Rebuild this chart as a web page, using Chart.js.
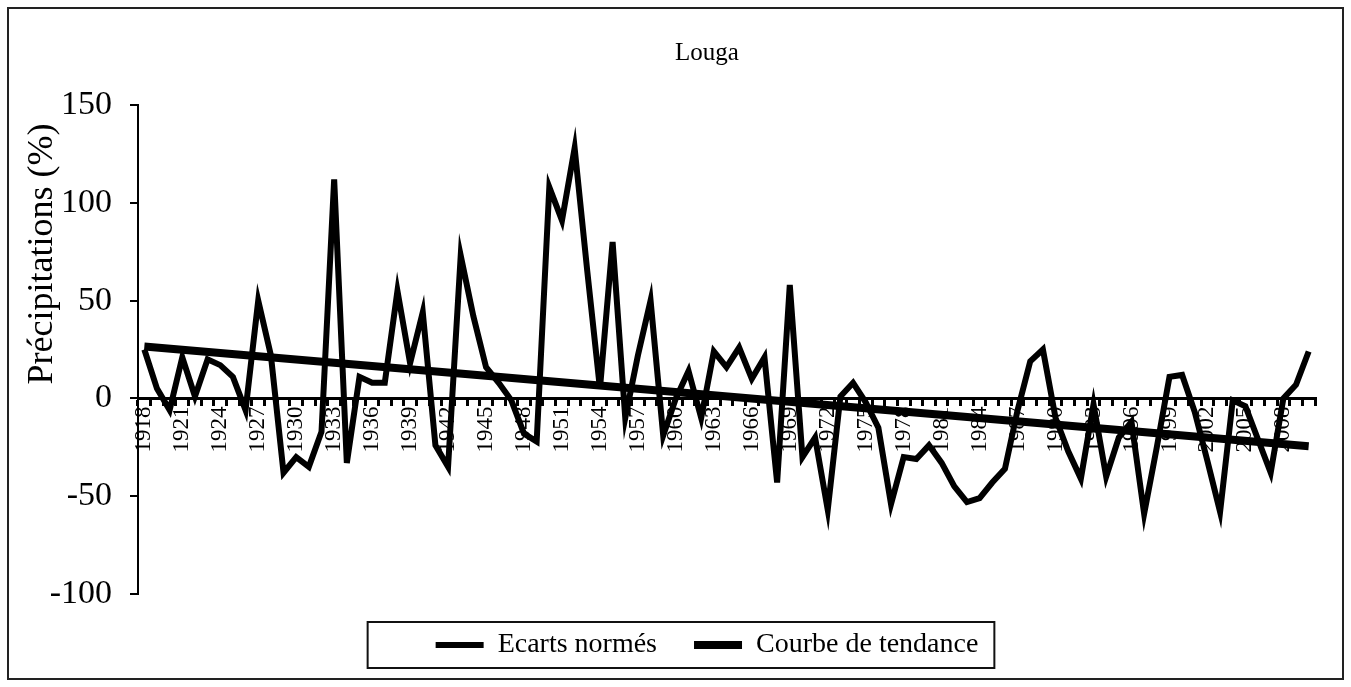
<!DOCTYPE html>
<html>
<head>
<meta charset="utf-8">
<title>Louga</title>
<script src="https://cdn.jsdelivr.net/npm/chart.js@4/dist/chart.umd.min.js"></script>
<style>
  html, body { margin: 0; padding: 0; background: #fff; }
  #wrap { position: relative; width: 1351px; height: 687px; }
</style>
</head>
<body>
<div id="wrap"><canvas id="chartLouga"></canvas></div>
<script>
/* Louga — écarts normés des précipitations et courbe de tendance */

const years = [
  '1918','1919','1920','1921','1922','1923','1924','1925','1926','1927',
  '1928','1929','1930','1931','1932','1933','1934','1935','1936','1937',
  '1938','1939','1940','1941','1942','1943','1944','1945','1946','1947',
  '1948','1949','1950','1951','1952','1953','1954','1955','1956','1957',
  '1958','1959','1960','1961','1962','1963','1964','1965','1966','1967',
  '1968','1969','1970','1971','1972','1973','1974','1975','1976','1977',
  '1978','1979','1980','1981','1982','1983','1984','1985','1986','1987',
  '1988','1989','1990','1991','1992','1993','1994','1995','1996','1997',
  '1998','1999','2000','2001','2002','2003','2004','2005','2006','2007',
  '2008','2009','2010'
];

const ecarts = [
   25,   5,  -6,  21,   1,  20,  17,  11,  -6,  50,
   22, -38, -30, -35, -17, 112, -33,  11,   8,   8,
   55,  18,  44, -24, -35,  73,  42,  16,   8,  -1,
  -18, -22, 108,  91, 128,  65,   5,  80, -10,  22,
   50, -19,   0,  14, -10,  24,  16,  26,  10,  21,
  -43,  58, -30, -20, -57,   1,   8,  -2, -15, -54,
  -30, -31, -24, -33, -45, -53, -51, -43, -36,  -6,
   19,  25, -10, -27, -41,  -3, -40, -20, -12, -59,
  -25,  11,  12,  -7, -32, -58,  -1,  -4, -21, -38,
    0,   7,  24
];

// droite de tendance (extrémités)
const trendYears  = ['1918', '2010'];
const trendValues = [26.5, -24.5];

// libellés affichés sur l'axe des x (un an sur trois)
const tickYears = [
  '1918','1921','1924','1927','1930','1933','1936','1939','1942','1945',
  '1948','1951','1954','1957','1960','1963','1966','1969','1972','1975',
  '1978','1981','1984','1987','1990','1993','1996','1999','2002','2005','2008'
];

const yMin = -100, yMax = 150, yStep = 50;

const SERIF = "'Liberation Serif', 'Times New Roman', serif";
Chart.defaults.color = '#000';
Chart.defaults.font.family = SERIF;

/* cadre, libellés et titre de l'axe y, encadré de la légende */
const decor = {
  id: 'decor',
  beforeDraw(chart) {
    const ctx = chart.ctx;
    ctx.save();
    ctx.fillStyle = '#fff';
    ctx.fillRect(0, 0, chart.width, chart.height);
    ctx.strokeStyle = '#222';
    ctx.lineWidth = 2;
    ctx.strokeRect(8, 8, chart.width - 16, chart.height - 16);
    ctx.restore();
  },
  afterDraw(chart) {
    const ctx = chart.ctx;
    const ca = chart.chartArea;
    const ys = chart.scales.y;

    // libellés de l'axe y (dessinés ici pour ne pas être rognés)
    ctx.save();
    ctx.fillStyle = '#000';
    ctx.font = '34px ' + SERIF;
    ctx.textAlign = 'right';
    ctx.textBaseline = 'middle';
    ys.ticks.forEach(t => {
      ctx.fillText(String(t.value), ca.left - 26, ys.getPixelForValue(t.value));
    });
    ctx.restore();

    ctx.save();
    ctx.fillStyle = '#000';
    ctx.font = '36px ' + SERIF;
    ctx.textAlign = 'center';
    ctx.textBaseline = 'middle';
    ctx.translate(ca.left - 95, ca.top + 149);
    ctx.rotate(-Math.PI / 2);
    ctx.fillText('Précipitations (%)', 0, 0);
    ctx.restore();

    const hb = chart.legend.legendHitBoxes;
    if (!hb || !hb.length) return;
    const l = Math.min(...hb.map(b => b.left));
    const r = Math.max(...hb.map(b => b.left + b.width));
    const t = Math.min(...hb.map(b => b.top));
    const b = Math.max(...hb.map(b => b.top + b.height));
    ctx.save();
    ctx.strokeStyle = '#111';
    ctx.lineWidth = 2;
    ctx.strokeRect(l - 68, t - 9, (r - l) + 84, (b - t) + 18);
    ctx.restore();
  }
};

new Chart(document.getElementById('chartLouga'), {
  type: 'line',
  data: {
    labels: years,
    datasets: [
      {
        label: 'Ecarts normés',
        data: ecarts,
        borderColor: '#000', backgroundColor: '#000',
        borderWidth: 6, pointRadius: 0, tension: 0,
        order: 2,
      },
      {
        label: 'Courbe de tendance',
        data: trendYears.map((yr, i) => ({ x: yr, y: trendValues[i] })),
        borderColor: '#000', backgroundColor: '#000',
        borderWidth: 8, pointRadius: 0, tension: 0,
        order: 1,
      },
    ],
  },
  options: {
    responsive: true,
    maintainAspectRatio: false,
    animation: false,
    layout: { padding: { left: 99, right: 36, top: 38, bottom: 18 } },
    plugins: {
      title: {
        display: true, text: 'Louga',
        font: { family: SERIF, size: 25, weight: 'normal' },
        padding: { top: 0, bottom: 37 },
      },
      legend: {
        position: 'bottom',
        labels: {
          font: { family: SERIF, size: 28 },
          usePointStyle: true, pointStyle: 'line', pointStyleWidth: 48,
          padding: 37,
          sort: (a, b) => a.datasetIndex - b.datasetIndex,
        },
      },
      tooltip: { enabled: false },
    },
    scales: {
      x: {
        position: { y: 0 },
        offset: true,
        grid: { drawOnChartArea: false, offset: true, tickLength: 6, lineWidth: 3, color: '#000' },
        border: { display: true, color: '#000', width: 3 },
        ticks: {
          autoSkip: false, maxRotation: 90, minRotation: 90, padding: 2,
          font: { family: SERIF, size: 23 },
          callback: (v, i) => tickYears.includes(years[i]) ? years[i] : '',
        },
        afterFit: s => { s.height = 0; },
      },
      y: {
        min: yMin, max: yMax,
        grid: { drawOnChartArea: false, tickLength: 8, lineWidth: 2, color: '#000' },
        border: { display: true, color: '#000', width: 2 },
        ticks: { stepSize: yStep, display: false },
        afterFit: s => { s.width = 39; },
      },
    },
  },
  plugins: [decor],
});
</script>
</body>
</html>
